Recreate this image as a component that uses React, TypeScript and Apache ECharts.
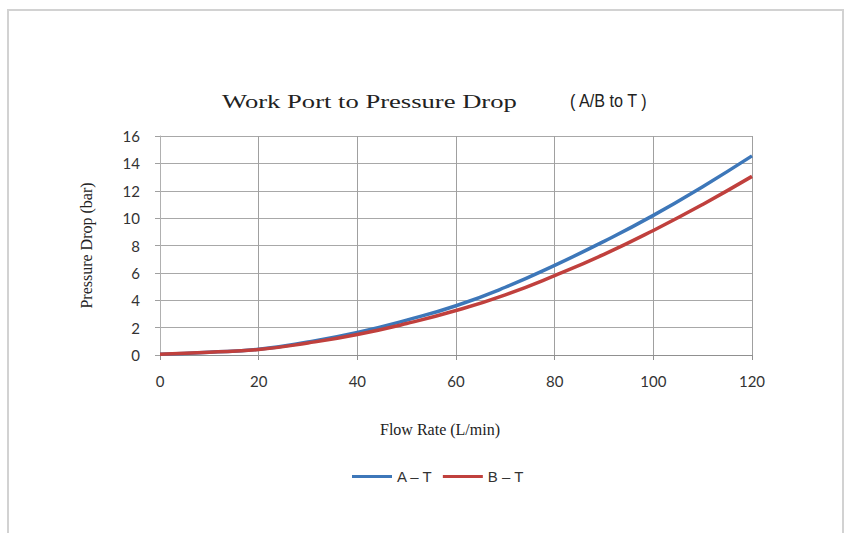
import React, { useEffect, useRef } from "react";
import * as echarts from "echarts";

const flowRates = [0, 10, 20, 30, 40, 50, 60, 70, 80, 90, 100, 110, 120];
const seriesAT = [0.05, 0.2, 0.42, 0.95, 1.65, 2.55, 3.6, 4.95, 6.55, 8.3, 10.2, 12.3, 14.55];
const seriesBT = [0.05, 0.2, 0.4, 0.88, 1.5, 2.3, 3.25, 4.4, 5.8, 7.35, 9.1, 11.0, 13.05];
const seriesNames = ["A – T", "B – T"];
const titleMain = "Work Port to Pressure Drop";
const titleSub = "( A/B to T )";
const xName = "Flow Rate (L/min)";
const yName = "Pressure Drop (bar)";

export default function App() {
  const ref = useRef<HTMLDivElement>(null);
  useEffect(() => {
    if (!ref.current) return;
    const chart = echarts.init(ref.current, null, { renderer: "svg" });
    const serif = "'Liberation Serif', 'DejaVu Serif', serif";
    const sans = "'Liberation Sans', Arial, sans-serif";
    const labelFont = "Lato, 'Open Sans', sans-serif";
    chart.setOption({
      animation: false,
      backgroundColor: "#ffffff",
      graphic: [
        {
          type: "rect",
          shape: { x: 8, y: 10, width: 835, height: 540 },
          style: { fill: "none", stroke: "#d2d2d2", lineWidth: 2 },
          silent: true,
        },
        {
          type: "text",
          x: 222,
          y: 101,
          scaleX: 1.4,
          style: {
            text: titleMain,
            font: `19px ${serif}`,
            fill: "#222",
            align: "left",
            verticalAlign: "middle",
          },
        },
        {
          type: "text",
          x: 570,
          y: 101,
          scaleX: 0.85,
          style: {
            text: titleSub,
            font: `19px ${sans}`,
            fill: "#222",
            align: "left",
            verticalAlign: "middle",
          },
        },
      ],
      legend: {
        data: seriesNames,
        bottom: 44,
        left: 347,
        itemWidth: 40,
        itemHeight: 3,
        itemGap: 10,
        icon: "rect",
        textStyle: { fontFamily: sans, fontSize: 15, color: "#333" },
      },
      grid: { left: 160, right: 92, top: 136, bottom: 178, containLabel: false },
      xAxis: {
        type: "value",
        min: 0,
        max: 120,
        interval: 20,
        name: xName,
        nameLocation: "middle",
        nameGap: 66,
        nameTextStyle: {
          fontFamily: serif,
          fontSize: 16,
          color: "#222",
          padding: [0, 32, 0, 0],
        },
        axisLine: { show: true, lineStyle: { color: "#909090", width: 1 } },
        axisTick: { show: true, length: 5, lineStyle: { color: "#909090" } },
        axisLabel: {
          margin: 18,
          fontFamily: labelFont,
          fontSize: 15,
          color: "#333",
        },
        splitLine: { show: true, lineStyle: { color: "#a0a0a0", width: 1 } },
      },
      yAxis: {
        type: "value",
        min: 0,
        max: 16,
        interval: 2,
        name: yName,
        nameLocation: "middle",
        nameGap: 66,
        nameRotate: 90,
        nameTextStyle: { fontFamily: serif, fontSize: 16, color: "#222" },
        axisLine: { show: true, lineStyle: { color: "#b0b0b0", width: 1 } },
        axisTick: { show: true, length: 5, lineStyle: { color: "#a0a0a0" } },
        axisLabel: {
          margin: 20,
          fontFamily: labelFont,
          fontSize: 15,
          color: "#333",
        },
        splitLine: { show: true, lineStyle: { color: "#a8a8a8", width: 1 } },
      },
      series: [
        {
          name: seriesNames[0],
          type: "line",
          smooth: true,
          showSymbol: false,
          data: flowRates.map((x, i) => [x, seriesAT[i]]),
          lineStyle: { color: "#3d77b9", width: 3.5 },
          itemStyle: { color: "#3d77b9" },
        },
        {
          name: seriesNames[1],
          type: "line",
          smooth: true,
          showSymbol: false,
          data: flowRates.map((x, i) => [x, seriesBT[i]]),
          lineStyle: { color: "#c0403d", width: 3.5 },
          itemStyle: { color: "#c0403d" },
        },
      ],
    });
    return () => chart.dispose();
  }, []);
  return (
    <div
      ref={ref}
      style={{ position: "fixed", left: 0, top: 0, width: 844, height: 533 }}
    />
  );
}
